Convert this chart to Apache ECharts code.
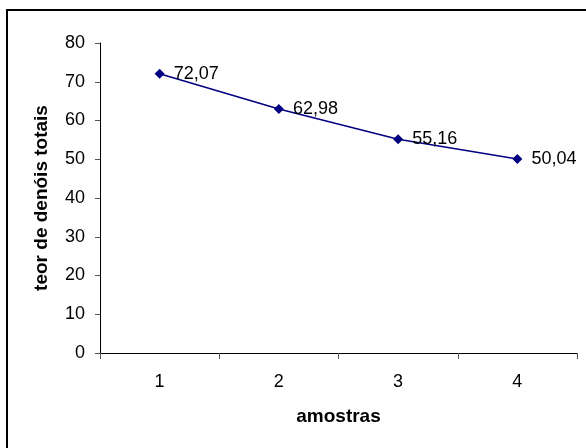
<!DOCTYPE html>
<html>
<head>
<meta charset="utf-8">
<script src="https://cdn.jsdelivr.net/npm/echarts@6/dist/echarts.min.js"></script>
<style>
  html, body { margin: 0; padding: 0; background: #fff; }
  #chart { width: 586px; height: 448px; }
</style>
</head>
<body>
<div id="chart"></div>
<script>
// Samples and their total tannin content
const categories = ['1', '2', '3', '4'];
const teorValues = [72.07, 62.98, 55.16, 50.04];
const yTicks = { min: 0, max: 80, interval: 10 };

const FONT = '"Liberation Sans", Arial, sans-serif';

const chart = echarts.init(document.getElementById('chart'), null, { renderer: 'canvas' });

chart.setOption({
  animation: false,
  backgroundColor: '#ffffff',
  graphic: [{
    type: 'rect',
    shape: { x: 7, y: 10, width: 620, height: 480 },
    style: { fill: 'none', stroke: '#000', lineWidth: 2 },
    silent: true,
    z: 100
  }],
  grid: { left: 100, right: 9, top: 43, bottom: 95, containLabel: false },
  xAxis: {
    type: 'category',
    data: categories,
    boundaryGap: true,
    name: 'amostras',
    nameLocation: 'middle',
    nameGap: 54,
    nameTextStyle: { fontFamily: FONT, fontSize: 19, fontWeight: 'bold', color: '#000' },
    axisLine: { lineStyle: { color: '#000', width: 1 } },
    axisTick: { show: true, length: 6, alignWithLabel: false, lineStyle: { color: '#555' } },
    axisLabel: { fontFamily: FONT, fontSize: 18, color: '#000', margin: 20 },
    splitLine: { show: false }
  },
  yAxis: {
    type: 'value',
    min: yTicks.min,
    max: yTicks.max,
    interval: yTicks.interval,
    name: 'teor de denóis totais',
    nameLocation: 'middle',
    nameGap: 49,
    nameRotate: 90,
    nameTextStyle: { fontFamily: FONT, fontSize: 19, fontWeight: 'bold', color: '#000' },
    axisLine: { show: true, lineStyle: { color: '#000', width: 1 } },
    axisTick: { show: true, length: 5, lineStyle: { color: '#555' } },
    axisLabel: { fontFamily: FONT, fontSize: 18, color: '#000', margin: 15 },
    splitLine: { show: false }
  },
  series: [{
    type: 'line',
    data: teorValues,
    symbol: 'diamond',
    symbolSize: 10,
    lineStyle: { color: '#000080', width: 1.5 },
    itemStyle: { color: '#000080' },
    label: {
      show: true,
      position: 'right',
      distance: 9,
      fontFamily: FONT,
      fontSize: 18,
      color: '#000',
      formatter: p => p.value.toFixed(2).replace('.', ',')
    }
  }]
});
</script>
</body>
</html>
